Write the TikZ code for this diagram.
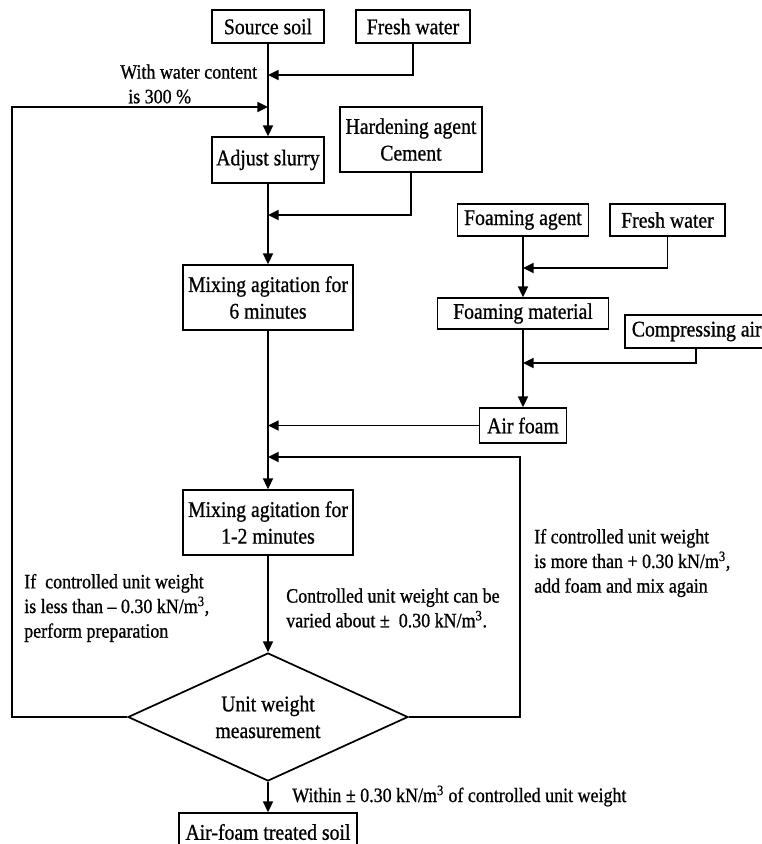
\documentclass[tikz,border=0pt]{standalone}
\usepackage{fontspec}
\setmainfont{Liberation Serif}[FakeStretch=0.88,FakeBold=0.8]
\usetikzlibrary{shapes.geometric,arrows.meta}
\begin{document}
\begin{tikzpicture}[x=0.75pt,y=-0.75pt,
  box/.style={draw,line width=1.3pt,inner sep=0pt,align=center,font=\fontsize{16.8}{20}\selectfont},
  lbl/.style={inner sep=0pt,align=left,font=\fontsize{15.3}{18.5}\selectfont},
  conn/.style={line width=1.3pt},
  arr/.style={conn,-{Triangle[length=8pt,width=7.5pt]}}]
\useasboundingbox (0,0) rectangle (762,844);
\clip (0,0) rectangle (762,844);

% main column
\node[box,minimum width=84pt,minimum height=24.75pt] (src) at (268,26.5) {Source soil};
\node[box,minimum width=85.5pt,minimum height=24.75pt] (fw1) at (413,26.5) {Fresh water};
\node[box,minimum width=84pt,minimum height=34.5pt] (adj) at (268,160) {Adjust slurry};
\node[box,minimum width=106.5pt,minimum height=48.75pt] (hard) at (411,139.5) {Hardening agent\\Cement};
\node[box,minimum width=127.5pt,minimum height=48.75pt] (mix1) at (268,297.5) {Mixing agitation for\\6 minutes};
\node[box,minimum width=127.5pt,minimum height=48.75pt] (mix2) at (268,522.5) {Mixing agitation for\\1-2 minutes};
\node[box,shape=diamond,aspect=2.2,minimum width=210pt,minimum height=96pt] (dia) at (268,717) {Unit weight\\measurement};
\node[box,minimum width=133.5pt,minimum height=28.5pt] (aft) at (268,832) {Air-foam treated soil};

% foam column
\node[box,minimum width=98.25pt,minimum height=24pt] (foam) at (523,220) {Foaming agent};
\node[box,minimum width=86.25pt,minimum height=24pt] (fw2) at (667.5,220) {Fresh water};
\node[box,minimum width=128.25pt,minimum height=23.25pt] (fmat) at (523,313.5) {Foaming material};
\node[box,anchor=west,inner xsep=5.25pt,minimum height=24.75pt] (comp) at (624,331.5) {Compressing air};
\node[box,minimum width=65.25pt,minimum height=26.25pt] (air) at (523,425.5) {Air foam};

% junctions
\coordinate (j1) at (268,75);
\coordinate (j2) at (268,107);
\coordinate (j3) at (268,215);
\coordinate (j4) at (268,425.5);
\coordinate (j5) at (268,457);
\coordinate (k1) at (523,268);
\coordinate (k2) at (523,363);
\coordinate (lft) at (12,717);
\coordinate (rgt) at (520,717);

% connectors
\draw[arr] (src) -- (adj);
\draw[arr] (fw1.south) |- (j1);
\draw[arr] (dia.west) -- (lft) -- (lft |- j2) -- (j2);
\draw[arr] (adj) -- (mix1);
\draw[arr] (hard.south) |- (j3);
\draw[arr] (mix1) -- (mix2);
\draw[arr] (air.west) -- (j4);
\draw[arr] (dia.east) -- (rgt) -- (rgt |- j5) -- (j5);
\draw[arr] (mix2) -- (dia);
\draw[arr] (dia) -- (aft);
\draw[arr] (foam) -- (fmat);
\draw[arr] (fw2.south) |- (k1);
\draw[arr] (fmat) -- (air);
\draw[arr] ([xshift=54pt]comp.south west) |- (k2);

% labels
\node[lbl,anchor=west] (lwc) at (120,84) {With water content\\\hspace*{6pt}is 300 \%};
\node[lbl,anchor=west] (lless) at (24,608) {If~ controlled unit weight\\is less than – 0.30 kN/m\textsuperscript{3},\\perform preparation};
\node[lbl,anchor=west] (lvar) at (286,608) {Controlled unit weight can be\\varied about ±~ 0.30 kN/m\textsuperscript{3}.};
\node[lbl,anchor=west] (lmore) at (534,563) {If controlled unit weight\\is more than + 0.30 kN/m\textsuperscript{3},\\add foam and mix again};
\node[lbl,anchor=west] (lwin) at (292,796) {Within ± 0.30 kN/m\textsuperscript{3} of controlled unit weight};
\end{tikzpicture}
\end{document}
